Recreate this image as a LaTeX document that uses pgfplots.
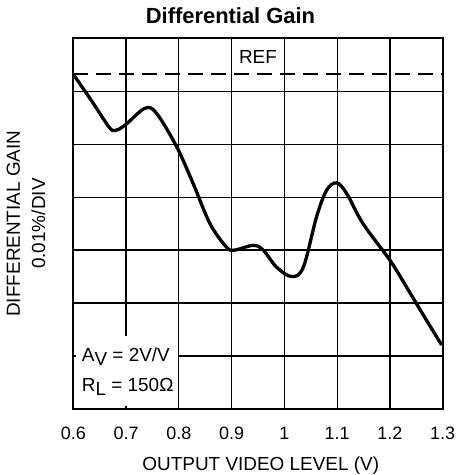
\documentclass[border=0pt]{standalone}
\usepackage{fontspec}
\setmainfont{Liberation Sans}
\setsansfont{Liberation Sans}
\usepackage{pgfplots}
\pgfplotsset{compat=1.18}

\begin{document}
\begin{tikzpicture}
  \begin{axis}[scale only axis,
               width=369.4bp, height=370.7bp,
               xmin=0.6, xmax=1.3, ymin=0, ymax=7,
               xtick={0.6,0.7,0.8,0.9,1,1.1,1.2,1.3},
               xticklabels={0.6,0.7,0.8,0.9,1,1.1,1.2,1.3},
               ytick={0,1,2,3,4,5,6,7},
               yticklabels={},
               major tick length=0pt,
               grid=major,
               grid style={black, line width=1.3bp},
               axis line style={black, line width=2bp},
               tick label style={font=\fontsize{18}{21}\selectfont},
               xticklabel style={anchor=base, yshift=-30bp},
               /pgf/number format/assume math mode=true]
    % REF level
    \addplot[black, line width=1.8bp, dash pattern=on 15bp off 8bp]
      coordinates {(0.6,6.33) (1.3,6.33)};
    \node[anchor=base, font=\fontsize{19}{22}\selectfont] at (axis cs:0.95,6.52) {REF};

    % measured curve
    \addplot[black, line width=3.3bp, smooth, tension=0.55] coordinates {
      (0.600,6.32) (0.638,5.77) (0.668,5.32) (0.680,5.26) (0.698,5.36)
      (0.736,5.68) (0.758,5.58) (0.796,4.95) (0.827,4.26) (0.859,3.50)
      (0.890,3.06) (0.905,3.00) (0.941,3.09) (0.960,3.00) (0.985,2.68)
      (1.014,2.50) (1.036,2.68) (1.061,3.63) (1.080,4.13) (1.099,4.27)
      (1.118,4.07) (1.149,3.50) (1.200,2.81) (1.231,2.31) (1.269,1.68)
      (1.298,1.21)
    };

    % conditions box
    \fill[white] (axis cs:0.6045,0.06) rectangle (axis cs:0.7985,1.38);
    \node[anchor=base west, inner sep=0pt, font=\fontsize{19}{22}\selectfont]
      at (axis cs:0.616,0.89) {A\raisebox{-0.4ex}{V} = 2V/V};
    \node[anchor=base west, inner sep=0pt, font=\fontsize{19}{22}\selectfont]
      at (axis cs:0.616,0.33) {R\raisebox{-0.4ex}{L} = 150Ω};
  \end{axis}

  \node[anchor=base, font=\bfseries\fontsize{22}{26}\selectfont] at (157.2bp,385bp) {Differential Gain};
  \node[anchor=base, font=\fontsize{19}{22}\selectfont] at (187.5bp,-61bp) {OUTPUT VIDEO LEVEL (V)};
  \node[rotate=90, anchor=base, font=\fontsize{19}{22}\selectfont] at (-53.3bp,185.4bp) {DIFFERENTIAL GAIN};
  \node[rotate=90, anchor=base, font=\fontsize{19}{22}\selectfont] at (-28.3bp,185.4bp) {0.01\%/DIV};

  \pgfresetboundingbox
  \useasboundingbox (-73.3bp,-66bp) rectangle (387.7bp,409bp);
\end{tikzpicture}
\end{document}
